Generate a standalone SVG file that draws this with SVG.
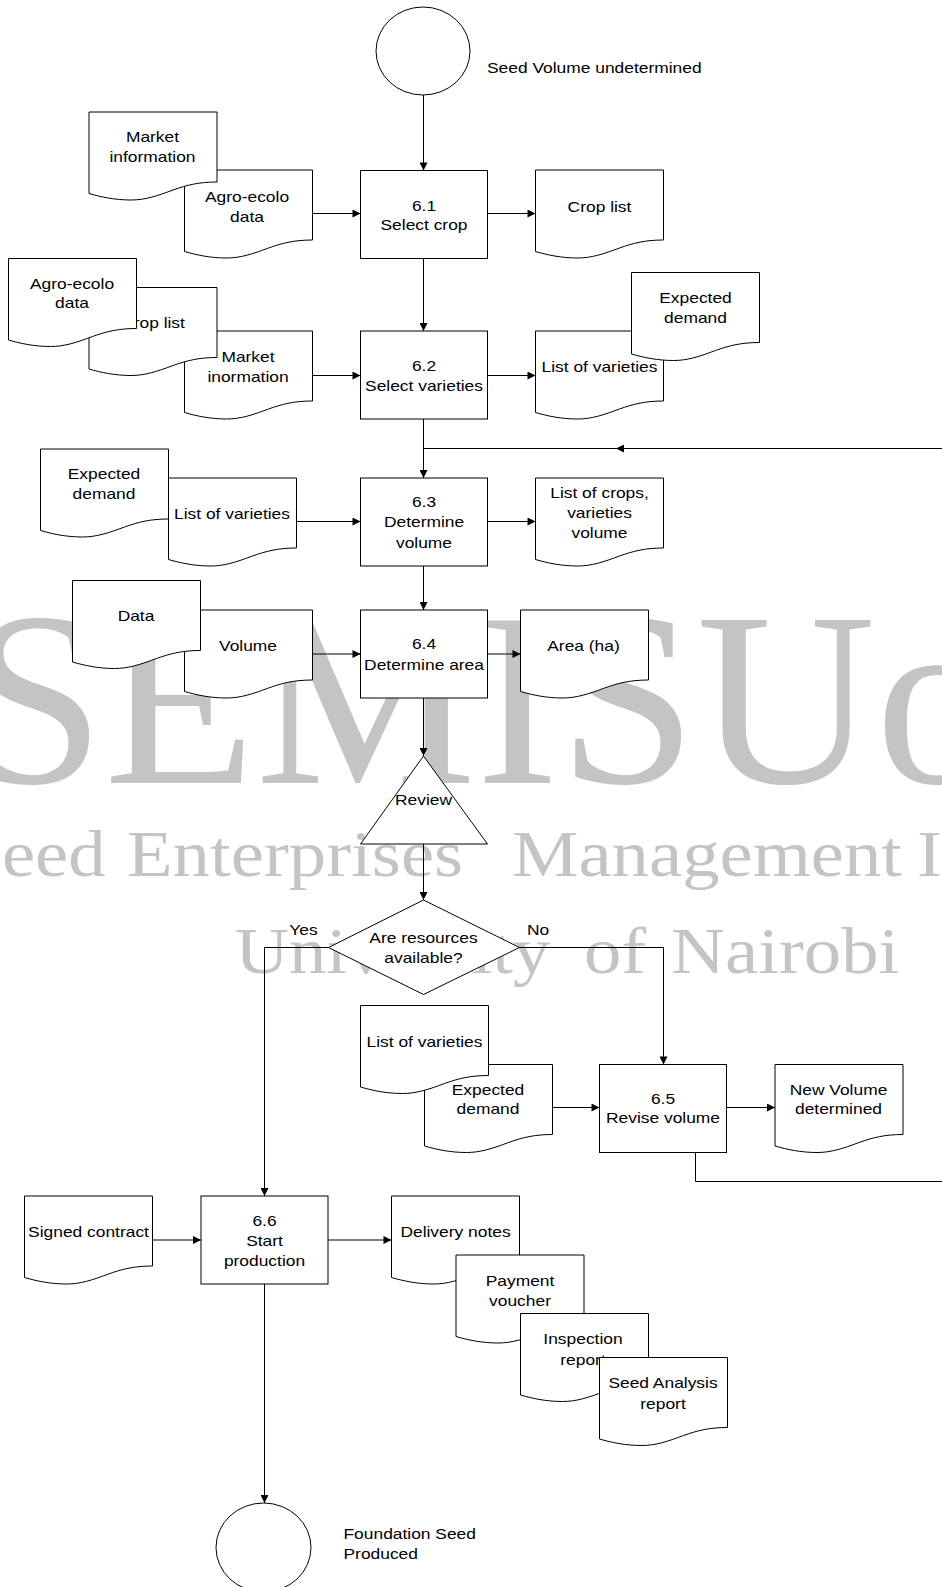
<svg xmlns="http://www.w3.org/2000/svg" xmlns:xlink="http://www.w3.org/1999/xlink" width="942" height="1587" viewBox="0 0 942 1587">
<style>
.n{fill:#fff;stroke:#000;stroke-width:1}
.c{fill:none;stroke:#000;stroke-width:1}
.t{font-family:"Liberation Sans",Arial,sans-serif;font-size:15px;fill:#000;text-anchor:middle}
.s{font-family:"Liberation Sans",Arial,sans-serif;font-size:15px;fill:#000;text-anchor:start}
.w{font-family:"Liberation Serif","Times New Roman",serif;fill:#c4c4c4}
</style>
<defs>
<path id="doc" d="M0,0 H128 V70 C110,70 98,73 84,78 C68,84 56,88 42,88 C26,88 12,85 0,81.5 Z"/>
<marker id="arr" viewBox="0 0 10 10" refX="10" refY="5" markerWidth="9" markerHeight="8" orient="auto" markerUnits="userSpaceOnUse"><path d="M0,0 L10,5 L0,10 Z" fill="#000"/></marker>
</defs>
<rect width="942" height="1587" fill="#fff"/>
<g id="watermark">
<text class="w" font-size="248" x="-33.5 104 255.5 476 558.6" y="783">SEMIS <tspan x="696.5">Uo</tspan></text>
<text class="w" font-size="65" transform="translate(0 876) scale(1.15 1)"><tspan x="1.7">eed</tspan><tspan x="110.4">Enterprises</tspan><tspan x="445.2">Management</tspan><tspan x="797.4">I</tspan></text>
<text class="w" font-size="65" transform="translate(0 973) scale(1.15 1)"><tspan x="204.3">University</tspan><tspan x="507.8">of</tspan><tspan x="583.5">Nairobi</tspan></text>
</g>
<g id="connectors">
<path class="c" d="M423.5,95 V170.5" marker-end="url(#arr)"/>
<path class="c" d="M312.5,213.5 H360.5" marker-end="url(#arr)"/>
<path class="c" d="M487.5,213.5 H535.5" marker-end="url(#arr)"/>
<path class="c" d="M423.5,258.5 V331" marker-end="url(#arr)"/>
<path class="c" d="M312.5,375.5 H360.5" marker-end="url(#arr)"/>
<path class="c" d="M487.5,375.5 H535.5" marker-end="url(#arr)"/>
<path class="c" d="M423.5,419 V478" marker-end="url(#arr)"/>
<path class="c" d="M695.5,1152.5 V1181.5 H950 V448.5 H616" marker-end="url(#arr)"/>
<path class="c" d="M616,448.5 H423.5"/>
<path class="c" d="M296.5,521.5 H360.5" marker-end="url(#arr)"/>
<path class="c" d="M487.5,521.5 H535.5" marker-end="url(#arr)"/>
<path class="c" d="M423.5,566 V610" marker-end="url(#arr)"/>
<path class="c" d="M312.5,654 H360.5" marker-end="url(#arr)"/>
<path class="c" d="M487.5,654 H520.5" marker-end="url(#arr)"/>
<path class="c" d="M423.5,698 V756" marker-end="url(#arr)"/>
<path class="c" d="M423.5,844 V900" marker-end="url(#arr)"/>
<path class="c" d="M328.5,947.5 H264.5 V1196" marker-end="url(#arr)"/>
<path class="c" d="M519.5,947.5 H663.5 V1064.5" marker-end="url(#arr)"/>
<path class="c" d="M552.5,1107.5 H599.5" marker-end="url(#arr)"/>
<path class="c" d="M726.5,1107.5 H775" marker-end="url(#arr)"/>
<path class="c" d="M152.5,1240 H201" marker-end="url(#arr)"/>
<path class="c" d="M328,1240 H391.5" marker-end="url(#arr)"/>
<path class="c" d="M264.5,1284 V1503" marker-end="url(#arr)"/>
</g>
<g id="start">
<ellipse class="n" cx="423" cy="51" rx="47" ry="44"/>
<text class="s" transform="translate(487 73) scale(1.16 1)">Seed Volume undetermined</text>
</g>
<g id="doc-agro1">
<use class="n" href="#doc" x="184.5" y="170"/>
<text class="t" transform="translate(247 202) scale(1.16 1)"><tspan x="0">Agro-ecolo</tspan><tspan x="0" dy="20">data</tspan></text>
</g>
<g id="doc-market1">
<use class="n" href="#doc" x="89" y="112"/>
<text class="t" transform="translate(152.5 142) scale(1.16 1)"><tspan x="0">Market</tspan><tspan x="0" dy="20">information</tspan></text>
</g>
<g id="p61">
<rect class="n" x="360.5" y="170.5" width="127" height="88"/>
<text class="t" transform="translate(424 210.5) scale(1.16 1)"><tspan x="0">6.1</tspan><tspan x="0" dy="20">Select crop</tspan></text>
</g>
<g id="doc-croplist1">
<use class="n" href="#doc" x="535.5" y="170"/>
<text class="t" transform="translate(599.5 212) scale(1.16 1)">Crop list</text>
</g>
<g id="doc-market2">
<use class="n" href="#doc" x="184.5" y="331"/>
<text class="t" transform="translate(248 362) scale(1.16 1)"><tspan x="0">Market</tspan><tspan x="0" dy="20">inormation</tspan></text>
</g>
<g id="doc-croplist2">
<use class="n" href="#doc" x="89" y="287.5"/>
<text class="t" transform="translate(153 328) scale(1.16 1)">Crop list</text>
</g>
<g id="doc-agro2">
<use class="n" href="#doc" x="8.5" y="258.5"/>
<text class="t" transform="translate(72 288.5) scale(1.16 1)"><tspan x="0">Agro-ecolo</tspan><tspan x="0" dy="20">data</tspan></text>
</g>
<g id="p62">
<rect class="n" x="360.5" y="331" width="127" height="88"/>
<text class="t" transform="translate(424 371) scale(1.16 1)"><tspan x="0">6.2</tspan><tspan x="0" dy="20">Select varieties</tspan></text>
</g>
<g id="doc-varieties2">
<use class="n" href="#doc" x="535.5" y="331"/>
<text class="t" transform="translate(599.5 372) scale(1.16 1)">List of varieties</text>
</g>
<g id="doc-demand2">
<use class="n" href="#doc" x="631.5" y="272.5"/>
<text class="t" transform="translate(695.5 303) scale(1.16 1)"><tspan x="0">Expected</tspan><tspan x="0" dy="20.5">demand</tspan></text>
</g>
<g id="doc-varieties3">
<use class="n" href="#doc" x="168.5" y="478"/>
<text class="t" transform="translate(232 518.5) scale(1.16 1)">List of varieties</text>
</g>
<g id="doc-demand3">
<use class="n" href="#doc" x="40.5" y="449"/>
<text class="t" transform="translate(104 478.5) scale(1.16 1)"><tspan x="0">Expected</tspan><tspan x="0" dy="20.5">demand</tspan></text>
</g>
<g id="p63">
<rect class="n" x="360.5" y="478" width="127" height="88"/>
<text class="t" transform="translate(424 507) scale(1.16 1)"><tspan x="0">6.3</tspan><tspan x="0" dy="20.5">Determine</tspan><tspan x="0" dy="20.5">volume</tspan></text>
</g>
<g id="doc-cropsvol">
<use class="n" href="#doc" x="535.5" y="478"/>
<text class="t" transform="translate(599.5 498) scale(1.16 1)"><tspan x="0">List of crops,</tspan><tspan x="0" dy="20.5">varieties</tspan><tspan x="0" dy="20">volume</tspan></text>
</g>
<g id="doc-volume">
<use class="n" href="#doc" x="184.5" y="610"/>
<text class="t" transform="translate(248 651) scale(1.16 1)">Volume</text>
</g>
<g id="doc-data">
<use class="n" href="#doc" x="72.5" y="580.5"/>
<text class="t" transform="translate(136 621) scale(1.16 1)">Data</text>
</g>
<g id="p64">
<rect class="n" x="360.5" y="610" width="127" height="88"/>
<text class="t" transform="translate(424 649) scale(1.16 1)"><tspan x="0">6.4</tspan><tspan x="0" dy="21">Determine area</tspan></text>
</g>
<g id="doc-area">
<use class="n" href="#doc" x="520.5" y="610"/>
<text class="t" transform="translate(583.5 651) scale(1.16 1)">Area (ha)</text>
</g>
<g id="review">
<polygon class="n" points="423.5,756 487.5,844 360.5,844"/>
<text class="t" transform="translate(423.5 805) scale(1.16 1)">Review</text>
</g>
<g id="decision">
<polygon class="n" points="423.5,900 519.5,947.5 423.5,994.5 328.5,947.5"/>
<text class="t" transform="translate(423.5 942.5) scale(1.16 1)"><tspan x="0">Are resources</tspan><tspan x="0" dy="20.5">available?</tspan></text>
</g>
<g id="labels">
<text class="t" transform="translate(303.5 934.5) scale(1.16 1)">Yes</text>
<text class="t" transform="translate(538 934.5) scale(1.16 1)">No</text>
</g>
<g id="doc-demand5">
<use class="n" href="#doc" x="424.5" y="1064.5"/>
<text class="t" transform="translate(488 1094.5) scale(1.16 1)"><tspan x="0">Expected</tspan><tspan x="0" dy="20">demand</tspan></text>
</g>
<g id="doc-varieties5">
<use class="n" href="#doc" x="360.5" y="1005.5"/>
<text class="t" transform="translate(424.5 1047) scale(1.16 1)">List of varieties</text>
</g>
<g id="p65">
<rect class="n" x="599.5" y="1064.5" width="127" height="88"/>
<text class="t" transform="translate(663 1103.5) scale(1.16 1)"><tspan x="0">6.5</tspan><tspan x="0" dy="20">Revise volume</tspan></text>
</g>
<g id="doc-newvolume">
<use class="n" href="#doc" x="775" y="1064.5"/>
<text class="t" transform="translate(838.5 1094.5) scale(1.16 1)"><tspan x="0">New Volume</tspan><tspan x="0" dy="20">determined</tspan></text>
</g>
<g id="doc-contract">
<use class="n" href="#doc" x="24.5" y="1196"/>
<text class="t" transform="translate(88.5 1237) scale(1.16 1)">Signed contract</text>
</g>
<g id="p66">
<rect class="n" x="201" y="1196" width="127" height="88"/>
<text class="t" transform="translate(264.5 1226) scale(1.16 1)"><tspan x="0">6.6</tspan><tspan x="0" dy="20">Start</tspan><tspan x="0" dy="20">production</tspan></text>
</g>
<g id="doc-delivery">
<use class="n" href="#doc" x="391.5" y="1196"/>
<text class="t" transform="translate(455.5 1237) scale(1.16 1)">Delivery notes</text>
</g>
<g id="doc-payment">
<use class="n" href="#doc" x="456" y="1255"/>
<text class="t" transform="translate(520 1286) scale(1.16 1)"><tspan x="0">Payment</tspan><tspan x="0" dy="20">voucher</tspan></text>
</g>
<g id="doc-inspection">
<use class="n" href="#doc" x="520.5" y="1313.5"/>
<text class="t" transform="translate(583 1344) scale(1.16 1)"><tspan x="0">Inspection</tspan><tspan x="0" dy="21">report</tspan></text>
</g>
<g id="doc-analysis">
<use class="n" href="#doc" x="599.5" y="1357.5"/>
<text class="t" transform="translate(663 1388) scale(1.16 1)"><tspan x="0">Seed Analysis</tspan><tspan x="0" dy="21">report</tspan></text>
</g>
<g id="end">
<ellipse class="n" cx="263.5" cy="1547.5" rx="47.5" ry="44.5"/>
<text class="s" transform="translate(343.5 1539) scale(1.16 1)"><tspan x="0">Foundation Seed</tspan><tspan x="0" dy="20">Produced</tspan></text>
</g>
</svg>
